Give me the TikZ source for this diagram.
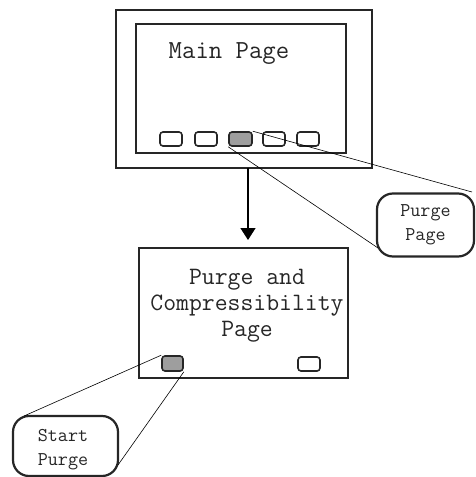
\documentclass[tikz,border=0pt]{standalone}
\usepackage{fontspec}
\usetikzlibrary{arrows.meta}
\begin{document}
\begin{tikzpicture}[x=1pt,y=-1pt,
  frame/.style={draw=black!85,line width=2.6pt},
  btn/.style={draw=black!85,line width=1.6pt,rounded corners=3pt,fill=white},
  btnon/.style={btn,fill=black!38},
  callout/.style={draw=black!85,line width=2.2pt,rounded corners=16pt,fill=white},
  link/.style={draw=black,line width=0.6pt},
  lbl/.style={font=\ttfamily,text=black!85,align=center,inner sep=0pt}]
\useasboundingbox (0,0) rectangle (475,477);
% main page
\draw[frame] (116,10) rectangle (372,168);
\draw[frame] (136,24) rectangle (346,153);
\node[lbl,font=\ttfamily\fontsize{26}{28}\selectfont] (mainlbl) at (229,54) {Main Page};
\path[btn] (160,132) rectangle (182,146);
\path[btn] (195,132) rectangle (217,146);
\node[btnon,minimum width=23pt,minimum height=14pt,inner sep=0pt] (gb) at (240.5,139) {};
\path[btn] (263,132) rectangle (285,146);
\path[btn] (297,132) rectangle (319,146);
% purge page callout
\node[callout,minimum width=97pt,minimum height=63pt,inner sep=0pt] (pp) at (425.5,225) {};
\node[lbl,font=\ttfamily\fontsize{19.5}{24}\selectfont] (pplbl) at (pp) {Purge\\Page};
\coordinate (ppa) at (472,192);
\coordinate (ppb) at (378,248);
\draw[link] (gb.north east) -- (ppa);
\draw[link] (gb.south west) -- (ppb);
% arrow
\coordinate (arrs) at (248,168);
\coordinate (arre) at (248,240);
\draw[line width=1.4pt,-{Triangle[length=12pt,width=15pt]}] (arrs) -- (arre);
% purge and compressibility
\node[frame,minimum width=209pt,minimum height=130pt,inner sep=0pt] (pc) at (243.5,313) {};
\node[lbl,font=\ttfamily\fontsize{25}{26}\selectfont] (pclbl) at (247,306) {Purge and\\Compressibility\\Page};
\node[btnon,minimum width=21pt,minimum height=15pt,inner sep=0pt] (sb) at (172.5,363.5) {};
\path[btn] (298,357) rectangle (320,371);
% start purge callout
\node[callout,minimum width=105pt,minimum height=60pt,inner sep=0pt] (sp) at (65.5,446) {};
\node[lbl,font=\ttfamily\fontsize{19.5}{24}\selectfont] (splbl) at (63,450) {Start\\Purge};
\coordinate (spa) at (24,416);
\coordinate (spb) at (118,465);
\draw[link] (sb.north west) -- (spa);
\draw[link] (sb.south east) -- (spb);
\end{tikzpicture}
\end{document}
